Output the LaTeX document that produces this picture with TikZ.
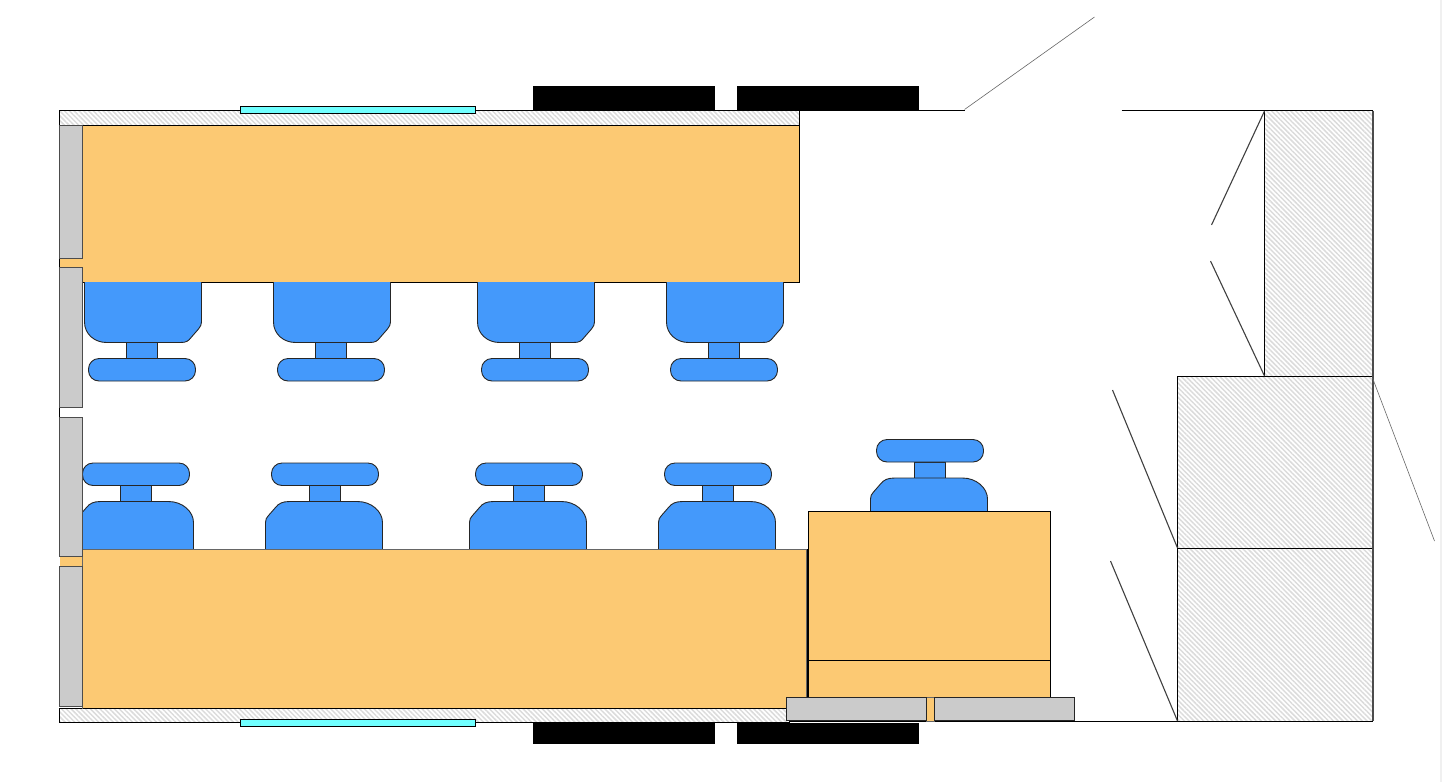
\documentclass[tikz,border=0pt]{standalone}
\usetikzlibrary{patterns.meta}
\definecolor{wood}{HTML}{FCC973}
\definecolor{seat}{HTML}{4499FB}
\definecolor{glass}{HTML}{70FFFF}
\definecolor{panel}{HTML}{CBCBCB}
\tikzset{
  line/.style={draw=black,line width=0.9pt},
  wall/.style={line,pattern={Lines[angle=-45,distance=3.4pt,line width=1.5pt]},pattern color=black!14},
  desk/.style={line,fill=wood},
  cushion/.style={draw=black!85,line width=0.9pt,fill=seat},
  side/.style={draw=black!70,line width=0.9pt,fill=panel},
  pane/.style={line,fill=glass},
  door/.style={draw=black!75,line width=1.1pt},
  doorthin/.style={draw=black!60,line width=0.6pt}
}
% chair facing down: seat on top (x = seat left, y = seat top)
\newcommand{\chairdown}[2]{
  \begin{scope}[shift={(#1,#2)}]
    \draw[cushion] (42,60.5) rectangle (73,76.5);
    \draw[cushion] (0,0) -- (0,40) .. controls (0,52) and (10,60.5) .. (22,60.5) -- (96,60.5)
      .. controls (102,60.5) and (104,59) .. (107,55) -- (114,47) .. controls (116,44) and (117,43) .. (117,40) -- (117,0);
    \draw[cushion,rounded corners=10.5pt] (4,76.5) rectangle (111,99);
  \end{scope}}
% chair facing up: #1 seat left, #2 seat bottom, #3 seat height
\newcommand{\chairup}[3]{
  \begin{scope}[shift={(#1,#2-#3)}]
    \draw[cushion] (44,0) rectangle (75,-16);
    \draw[cushion] (0,#3) -- (0,21) .. controls (0,18) and (1,16) .. (3,14) -- (10,6)
      .. controls (13,2) and (17,0) .. (24,0) -- (92,0)
      .. controls (106,0) and (117,10) .. (117,21) -- (117,#3);
    \draw[cushion,rounded corners=10.5pt] (6,-16) rectangle (113,-38.5);
  \end{scope}}
\begin{document}
\begin{tikzpicture}[x=1pt,y=-1pt]
\useasboundingbox (0,0) rectangle (1442,782);
\fill[black!6] (1440,0) rectangle (1442,782);
\begin{scope}[xshift=-0.5pt]
% walls
\draw[wall] (60,110.5) rectangle (800,125);
\draw[wall] (60,708) rectangle (790,722);
\draw[wall] (1265,110.5) rectangle (1373,376.5);
\draw[wall] (1178,376.5) rectangle (1373,548.5);
\draw[wall] (1178,548.5) rectangle (1373,721);
\draw[draw=black!70,line width=1.4pt] (1373.3,110.5) -- (1373.3,721);
\draw[line] (800,110.5) -- (965,110.5);
\draw[line] (1122,110.5) -- (1265,110.5);
\draw[line] (790,721.3) -- (1178,721.3);
\draw[line] (60,407) -- (60,417);
% desks
\fill[wood] (60,258.5) rectangle (83,267);
\draw[line] (60,258.5) -- (83,258.5) (60,267) -- (83,267) (60,258.5) -- (60,267);
\fill[wood] (60,556.5) rectangle (83,566);
\draw[line] (83,125) -- (800,125) -- (800,282) -- (83,282);
\fill[wood] (83,125) rectangle (800,282);
\draw[line] (83,125) -- (800,125) -- (800,282) -- (83,282);
% chairs, top row
\chairdown{85}{282}
\chairdown{274}{282}
\chairdown{478}{282}
\chairdown{667}{282}
% chairs, bottom row
\chairup{77}{549}{47.5}
\chairup{266}{549}{47.5}
\chairup{470}{549}{47.5}
\chairup{659}{549}{47.5}
\chairup{871}{511}{33}
\draw[desk,draw=black!60] (83,549) rectangle (807,708);
\draw[line] (807.5,549) -- (807.5,697);
\draw[line] (83,708) -- (800,708);
\draw[desk] (808.5,511) rectangle (1051,660.5);
\draw[desk] (808.5,660.5) rectangle (1051,698);
\draw[desk,draw=black!60] (927,697.5) rectangle (934.5,721);
% side panels
\draw[side] (60,125) rectangle (83,258.5);
\draw[side] (60,267) rectangle (83,407);
\draw[side] (60,417) rectangle (83,556.5);
\draw[side] (60,566) rectangle (83,706);
\draw[side,draw=black!85] (787,697.5) rectangle (926.5,720.5);
\draw[side,draw=black!85] (934.5,697.5) rectangle (1074.5,720.5);
% windows
\draw[pane] (240.5,106.5) rectangle (475.5,113.5);
\draw[pane] (240.5,719.5) rectangle (475.5,726);
% black blocks
\fill (533.5,86) rectangle (715.5,110);
\fill (737.5,86) rectangle (919.5,110);
\fill (533.5,723) rectangle (715.5,744);
\fill (737.5,723) rectangle (919.5,744);
% door leaves
\draw[doorthin] (965,109.5) -- (1095,17);
\draw[door] (1265,111) -- (1212,225);
\draw[door] (1211,261) -- (1265,376);
\draw[door] (1113,390) -- (1178,548);
\draw[door] (1111,561) -- (1178,721);
\draw[doorthin] (1373,378) -- (1435,541);
\end{scope}
\end{tikzpicture}
\end{document}
